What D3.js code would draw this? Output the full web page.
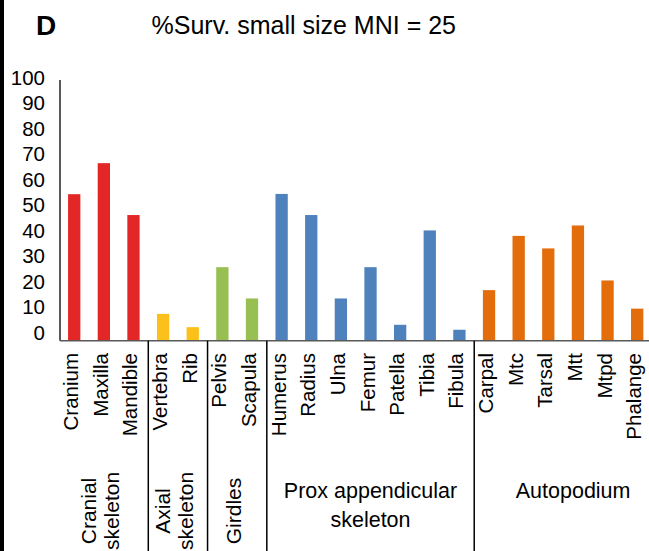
<!DOCTYPE html>
<html>
<head>
<meta charset="utf-8">
<script src="https://cdn.jsdelivr.net/npm/d3@7"></script>
<style>
  body { margin: 0; background: #fff; }
  text { font-family: "Liberation Sans", Arial, sans-serif; fill: #000; }
</style>
</head>
<body>
<svg id="chart" width="649" height="551"></svg>
<script>
// data
var categories = ["Cranium", "Maxilla", "Mandible", "Vertebra", "Rib", "Pelvis", "Scapula",
    "Humerus", "Radius", "Ulna", "Femur", "Patella", "Tibia", "Fibula",
    "Carpal", "Mtc", "Tarsal", "Mtt", "Mtpd", "Phalange"];
var values = [56.2, 68.1, 48.2, 10.3, 5.2, 28.2, 16.2,
    56.3, 48.2, 16.2, 28.2, 6.1, 42.3, 4.2,
    19.4, 40.2, 35.4, 44.2, 23.1, 12.3];
var groupNames = [["Cranial", "skeleton"], ["Axial", "skeleton"], ["Girdles"], ["Prox appendicular", "skeleton"], ["Autopodium"]];
var groupSizes = [3, 2, 2, 7, 6];
var groupRotated = [true, true, true, false, false];
var groupColors = ["#E32726", "#FBC01A", "#97BF52", "#4F81BD", "#E36C0B"];
var yTicks = [0, 10, 20, 30, 40, 50, 60, 70, 80, 90, 100];
var title = "%Surv. small size MNI = 25";
var panel = "D";

var svg = d3.select("#chart");
var plotLeft = 59.4, plotRight = 652, plotTop = 80, plotBottom = 340.7;
var pad = 0.585;

var x = d3.scaleBand().domain(categories).range([plotLeft, plotRight])
    .paddingInner(pad).paddingOuter(pad / 2);
var y = d3.scaleLinear().domain([0, 100]).range([plotBottom, plotTop]);
var step = x.step();

// which group each bar belongs to
var catGroup = [];
groupSizes.forEach(function (n, g) {
    for (var i = 0; i < n; i++) catGroup.push(g);
});

// left panel border
svg.append("rect").attr("x", 0).attr("y", 0).attr("width", 4).attr("height", 551).attr("fill", "#000");

// titles
svg.append("text").attr("x", 36).attr("y", 35).attr("font-size", "28px").attr("font-weight", "bold").text(panel);
svg.append("text").attr("x", 151.5).attr("y", 33.5).attr("font-size", "25px").text(title);

// bars
svg.selectAll(".bar").data(categories).enter().append("rect")
    .attr("class", "bar")
    .attr("x", function (d) { return x(d); })
    .attr("width", x.bandwidth())
    .attr("y", function (d, i) { return y(values[i]); })
    .attr("height", function (d, i) { return plotBottom - y(values[i]); })
    .attr("fill", function (d, i) { return groupColors[catGroup[i]]; });

// y axis
svg.append("line").attr("x1", 60).attr("x2", 60).attr("y1", plotTop).attr("y2", plotBottom)
    .attr("stroke", "#000").attr("stroke-width", 1.3);
// labels sit a little above their gridline value, like the original
svg.selectAll(".ytick").data(yTicks).enter().append("text")
    .attr("class", "ytick")
    .attr("x", 45)
    .attr("y", function (d) { return y(d) - 8 + d * 0.057; })
    .attr("dy", "0.35em")
    .attr("text-anchor", "end")
    .attr("font-size", "20.5px")
    .text(function (d) { return d; });

// x axis
svg.append("line").attr("x1", 60).attr("x2", 649).attr("y1", plotBottom).attr("y2", plotBottom)
    .attr("stroke", "#595959").attr("stroke-width", 1.5);

// category labels
svg.selectAll(".xlab").data(categories).enter().append("text")
    .attr("class", "xlab")
    .attr("transform", function (d) { return "translate(" + (x(d) + x.bandwidth() / 2 + 4) + ",353) rotate(-90)"; })
    .attr("text-anchor", "end")
    .attr("font-size", "20.5px")
    .text(function (d) { return d; });

// group separators and labels
var start = 0;
var lastEdge = 672;
groupSizes.forEach(function (n, g) {
    var x0 = x(categories[start]) - step * pad / 2;
    var x1 = (g == groupSizes.length - 1) ? lastEdge : x(categories[start + n - 1]) + x.bandwidth() + step * pad / 2;
    if (g > 0) {
        svg.append("line").attr("x1", x0).attr("x2", x0).attr("y1", plotBottom).attr("y2", 551)
            .attr("stroke", "#000").attr("stroke-width", 1.5);
    }
    var cx = (x0 + x1) / 2;
    var lines = groupNames[g];
    lines.forEach(function (t, k) {
        if (groupRotated[g]) {
            var off = 3.5 + (k - (lines.length - 1) / 2) * 23;
            svg.append("text")
                .attr("transform", "translate(" + (cx + off) + ",511) rotate(-90)")
                .attr("text-anchor", "middle")
                .attr("font-size", "21px")
                .text(t);
        } else {
            svg.append("text")
                .attr("x", cx).attr("y", 498 + k * 28.5)
                .attr("text-anchor", "middle")
                .attr("font-size", "21.5px")
                .text(t);
        }
    });
    start += n;
});
</script>
</body>
</html>
